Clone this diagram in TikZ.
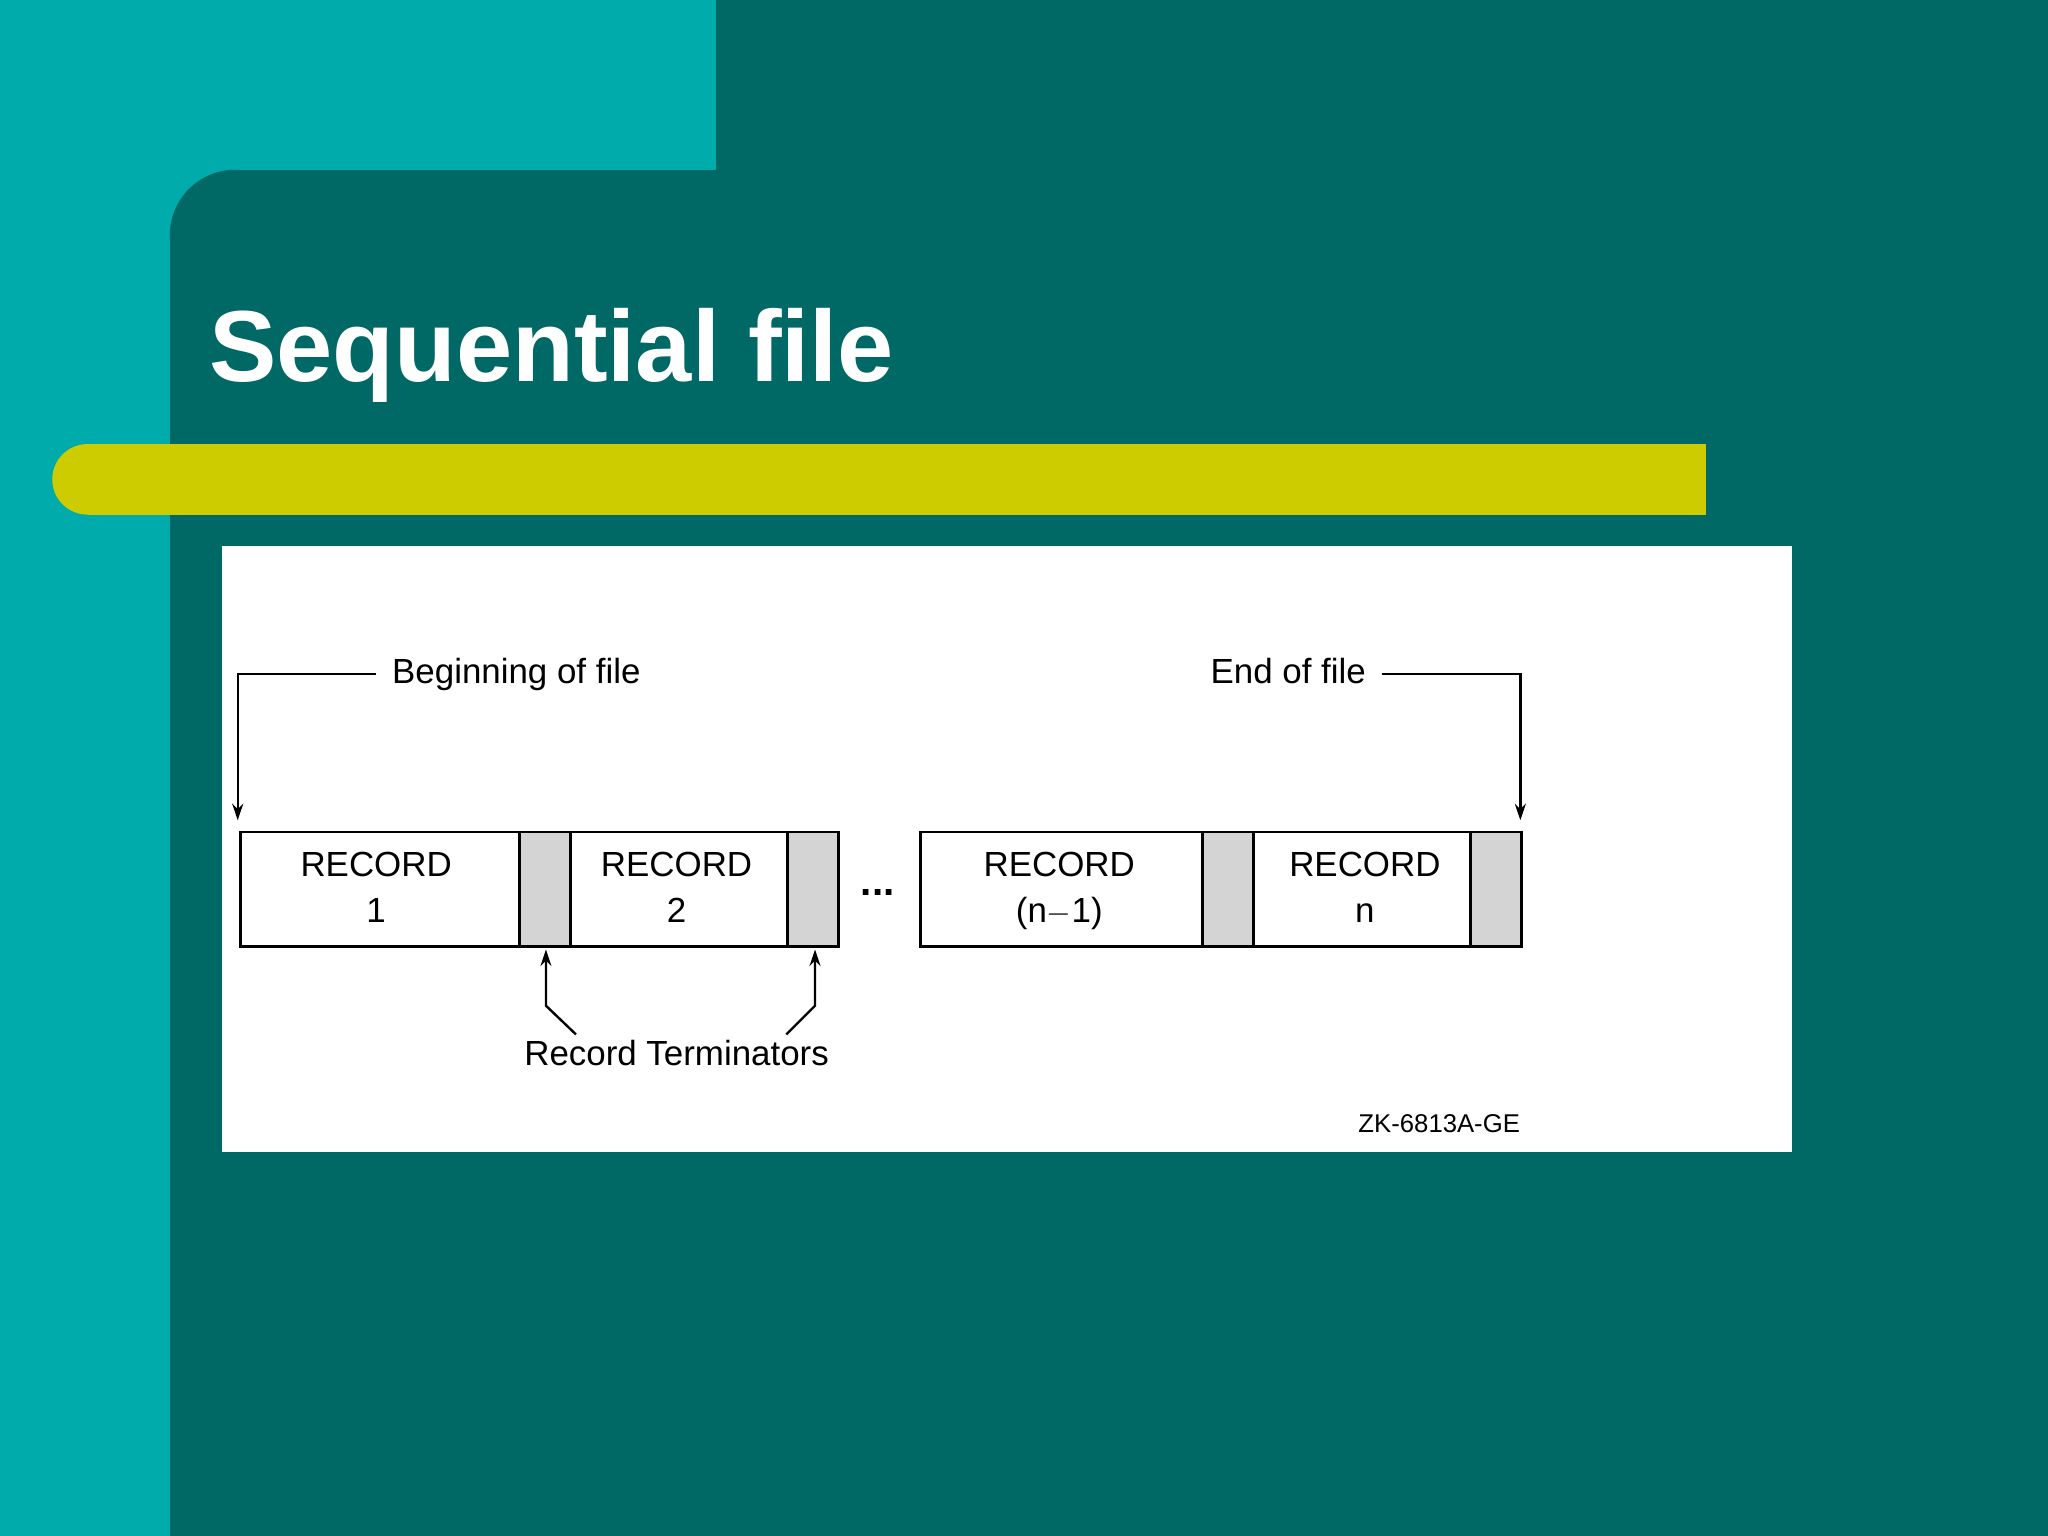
\documentclass[tikz,border=0pt]{standalone}
\usepackage{fontspec}
\setmainfont{Liberation Sans}
\usetikzlibrary{arrows.meta}
\definecolor{dteal}{HTML}{006966}
\definecolor{lteal}{HTML}{00ABAB}
\definecolor{barcol}{HTML}{CCCC00}
\definecolor{termcol}{HTML}{D4D4D4}
\begin{document}
\begin{tikzpicture}[x=0.025cm,y=-0.025cm,
  rec/.style={draw=black,line width=1.6pt,fill=white},
  trm/.style={draw=black,line width=1.6pt,fill=termcol},
  lbl/.style={font=\fontsize{19}{22}\selectfont,inner sep=0pt},
  con/.style={line width=1.3pt,-{Stealth[length=9pt,width=6pt]}}]
\useasboundingbox (0,0) rectangle (1568,1176);
\fill[dteal] (0,0) rectangle (1568,1176);
\fill[lteal] (0,0) rectangle (548,180);
\fill[lteal] (0,0) rectangle (130,1176);
\fill[dteal] (180,130) rectangle (1568,1176);
\fill[dteal] (130,180) rectangle (1568,1176);
\fill[dteal] (180,180) circle[radius=50*0.025cm];
\fill[barcol] (67,340) rectangle (1306,394);
\fill[barcol] (67,367) circle[radius=27*0.025cm];
\node[anchor=base west,text=white,font=\fontsize{55}{64}\selectfont\bfseries,inner sep=0pt] (title) at (160,292) {Sequential file};
\fill[white] (170,418) rectangle (1372,882);
% records
\draw[rec] (184,637) rectangle (398,725);
\node[lbl,anchor=base] (r1) at (288,671) {RECORD}; \node[lbl,anchor=base] (r1b) at (288,706) {1};
\draw[trm] (398,637) rectangle (437,725); \coordinate (t1) at (418,727);
\draw[rec] (437,637) rectangle (603,725);
\node[lbl,anchor=base] (r2) at (518,671) {RECORD}; \node[lbl,anchor=base] (r2b) at (518,706) {2};
\draw[trm] (603,637) rectangle (642,725); \coordinate (t2) at (624,727);
\node[font=\fontsize{22}{22}\selectfont\bfseries] (dots) at (672,683) {...};
\draw[rec] (705,637) rectangle (921,725);
\node[lbl,anchor=base] (r3) at (811,671) {RECORD}; \node[lbl,anchor=base] (r3b) at (811,706) {(n$-$1)};
\draw[trm] (921,637) rectangle (960,725);
\draw[rec] (960,637) rectangle (1126,725);
\node[lbl,anchor=base] (r4) at (1045,671) {RECORD}; \node[lbl,anchor=base] (r4b) at (1045,706) {n};
\draw[trm] (1126,637) rectangle (1165,725);
% labels
\node[lbl,anchor=base west] (bof) at (300,523) {Beginning of file};
\node[lbl,anchor=base east] (eof) at (1046,523) {End of file};
\node[lbl,anchor=base] (rt) at (518,816) {Record Terminators};
\node[lbl,anchor=base east,font=\fontsize{14}{16}\selectfont] (zk) at (1164,867) {ZK-6813A-GE};
\coordinate (bs) at (182,628); \coordinate (es) at (1164,628);
\draw[con] (288,516) -| (bs);
\draw[con] (1058,516) -| (es);
\draw[con] (441,792) -- (418,770) -- (t1);
\draw[con] (602,792) -- (624,770) -- (t2);
\end{tikzpicture}
\end{document}
